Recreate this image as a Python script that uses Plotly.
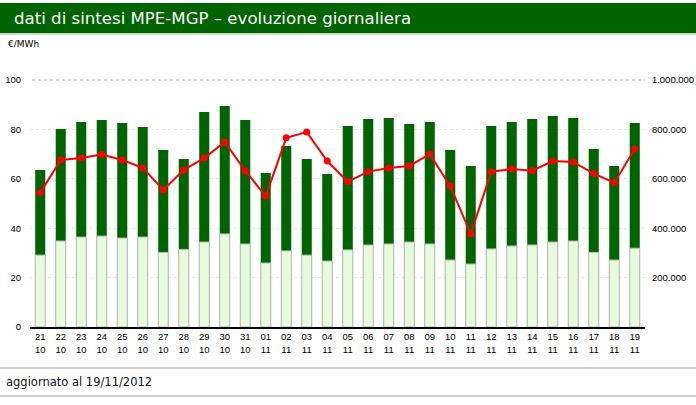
import plotly.graph_objects as go

# ---- data ----
giorni = ["21", "22", "23", "24", "25", "26", "27", "28", "29", "30", "31",
          "01", "02", "03", "04", "05", "06", "07", "08", "09", "10",
          "11", "12", "13", "14", "15", "16", "17", "18", "19"]
mesi = ["10"] * 11 + ["11"] * 19
categorie = [f"{g}<br>{m}" for g, m in zip(giorni, mesi)]

# volumi (MWh) - barra totale (verde scuro)
volumi_totali = [636000, 802000, 830000, 838000, 826000, 810000, 717000, 680000, 870000, 895000,
                 838000, 623000, 733000, 680000, 619000, 814000, 842000, 846000, 822000, 830000,
                 717000, 652000, 814000, 830000, 842000, 854000, 846000, 721000, 652000, 826000]
# volumi (MWh) - parte chiara
volumi_borsa = [291000, 348000, 364000, 368000, 360000, 364000, 302000, 314000, 344000, 377000,
                336000, 259000, 308000, 291000, 267000, 312000, 332000, 336000, 344000, 336000,
                271000, 255000, 316000, 328000, 332000, 344000, 348000, 302000, 271000, 319000]
# prezzo PUN (€/MWh)
prezzo = [54.4, 67.6, 68.4, 69.8, 67.6, 64.4, 55.5, 63.6, 68.4, 74.9,
          63.2, 53.0, 76.6, 78.9, 67.2, 58.8, 62.9, 64.4, 65.2, 70.0,
          57.1, 37.7, 62.9, 64.0, 63.3, 67.2, 66.8, 62.1, 58.4, 72.1]

left_ticks = [0, 20, 40, 60, 80, 100]
right_ticks = [200000, 400000, 600000, 800000, 1000000]
right_labels = ["200.000", "400.000", "600.000", "800.000", "1.000.000"]

# ---- layout geometry (pixels) ----
W, H = 696, 405
ML, MR, MT, MB = 30, 51, 80, 78
PW, PH = W - ML - MR, H - MT - MB

def px(x):
    return (x - ML) / PW

def py(y):
    return (H - MB - y) / PH

DARK = "#006400"
LIGHT = "#E6FCDC"
TICKFONT = dict(family="Liberation Sans, Arial, sans-serif", size=9.5, color="#000000")

fig = go.Figure()
fig.add_trace(go.Bar(x=categorie, y=volumi_totali, marker=dict(color=DARK, line=dict(width=0)),
                     yaxis="y", showlegend=False, hoverinfo="skip"))
fig.add_trace(go.Bar(x=categorie, y=volumi_borsa,
                     marker=dict(color=LIGHT, line=dict(color="#BBBBBB", width=1)),
                     yaxis="y", showlegend=False, hoverinfo="skip"))
fig.add_trace(go.Scatter(x=categorie, y=prezzo, mode="lines+markers", yaxis="y2",
                         line=dict(color="#FF0000", width=2),
                         marker=dict(color="#FF0000", size=7), showlegend=False))

fig.update_layout(
    width=W, height=H,
    margin=dict(l=ML, r=MR, t=MT, b=MB, pad=0, autoexpand=False),
    paper_bgcolor="white", plot_bgcolor="white",
    barmode="overlay", bargap=0.51,
    xaxis=dict(type="category", showline=True, linecolor="#000000", linewidth=1.5,
               ticks="", tickfont=TICKFONT, showgrid=False, range=[-0.5, 29.5],
               tickangle=0, automargin=False),
    yaxis=dict(side="right", range=[0, 1000000], tickvals=right_ticks, ticktext=right_labels,
               tickfont=TICKFONT, showgrid=True, gridcolor="#E6E6E6", griddash="dot",
               gridwidth=1, zeroline=False, ticks="outside", ticklen=4, tickcolor="white",
               automargin=False),
    yaxis2=dict(side="left", overlaying="y", range=[0, 100], tickvals=left_ticks,
                tickfont=TICKFONT, showgrid=False, zeroline=False,
                ticks="outside", ticklen=6, tickcolor="white", automargin=False),
    font=dict(family="DejaVu Sans, Verdana, sans-serif"),
)

shapes = [
    # title bar
    dict(type="rect", xref="paper", yref="paper", x0=px(0), x1=px(696), y0=py(33), y1=py(3),
         fillcolor=DARK, line=dict(width=0), layer="below"),
    dict(type="line", xref="paper", yref="paper", x0=px(0), x1=px(696), y0=py(34), y1=py(34),
         line=dict(color="#B8CCB8", width=1.5)),
    # top gridline (100)
    dict(type="line", xref="paper", yref="paper", x0=px(32), x1=1, y0=1, y1=1,
         line=dict(color="#B0B0B0", width=1, dash="dot")),
    # footer lines
    dict(type="line", xref="paper", yref="paper", x0=px(0), x1=px(696), y0=py(368), y1=py(368),
         line=dict(color="#C0C0C0", width=1.5)),
    dict(type="line", xref="paper", yref="paper", x0=px(0), x1=px(696), y0=py(396), y1=py(396),
         line=dict(color="#C0C0C0", width=1.5)),
]
fig.update_layout(shapes=shapes)

fig.add_annotation(text="dati di sintesi MPE-MGP \u2013 evoluzione giornaliera", xref="paper", yref="paper",
                   x=px(12), y=py(18), xanchor="left", yanchor="middle", showarrow=False,
                   font=dict(family="DejaVu Sans, Verdana, sans-serif", size=16.6, color="white"))
fig.add_annotation(text="\u20ac/MWh", xref="paper", yref="paper",
                   x=px(6), y=py(44), xanchor="left", yanchor="middle", showarrow=False,
                   font=dict(family="DejaVu Sans, Verdana, sans-serif", size=9, color="#000000"))
fig.add_annotation(text="aggiornato al 19/11/2012", xref="paper", yref="paper",
                   x=px(4), y=py(382), xanchor="left", yanchor="middle", showarrow=False,
                   font=dict(family="DejaVu Sans, Verdana, sans-serif", size=11.5, color="#111111"))

fig.write_html("out.html", config={"displayModeBar": False},
               post_script="document.body.style.margin='0';document.body.style.padding='0';")
